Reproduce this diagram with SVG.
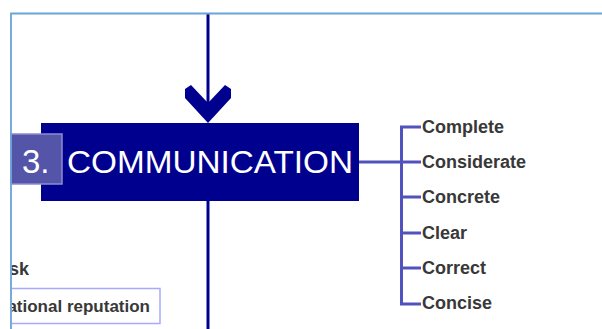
<svg xmlns="http://www.w3.org/2000/svg" width="602" height="329" viewBox="0 0 602 329">
<style>
.frame{stroke:#6BA3DA;stroke-width:1.8;fill:none}
.stem{stroke:#00008F;stroke-width:3;fill:none}
.br{stroke:#5252BE;stroke-width:3;fill:none}
.lbl{font-family:"Liberation Sans",Arial,sans-serif;font-size:18px;font-weight:bold;fill:#383838}
.white{font-family:"Liberation Sans",Arial,sans-serif;fill:#fff}
</style>
<defs>
<clipPath id="frameclip"><rect x="11.8" y="0" width="600" height="329"/></clipPath>
</defs>
<rect width="602" height="329" fill="#fff"/>
<g id="connectors">
<line class="stem" x1="208" y1="14" x2="208" y2="106"/>
<polygon fill="#00008F" points="185,89 191,85 208,103 225,85 231,89 231,98 208,123 185,98"/>
<line class="stem" x1="208" y1="200" x2="208" y2="329"/>
<line class="br" x1="359" y1="162" x2="402" y2="162" stroke-width="2.5"/>
<path class="br" d="M421,127 H401.5 V304 H421 M401.5,162 H421 M401.5,197 H421 M401.5,233 H421 M401.5,268 H421"/>
</g>
<g id="communication">
<rect x="41" y="123" width="318" height="78" fill="#00008F"/>
<text class="white" x="67" y="173" font-size="31" textLength="286" lengthAdjust="spacingAndGlyphs">COMMUNICATION</text>
</g>
<g id="number">
<rect x="11" y="134" width="51" height="50" fill="#5454A8" stroke="#8C8CD0" stroke-width="1.5"/>
<text class="white" x="22" y="173" font-size="33">3.</text>
</g>
<g id="items">
<text class="lbl" x="422" y="133">Complete</text>
<text class="lbl" x="422" y="168">Considerate</text>
<text class="lbl" x="422" y="203">Concrete</text>
<text class="lbl" x="422" y="239">Clear</text>
<text class="lbl" x="422" y="274">Correct</text>
<text class="lbl" x="422" y="309">Concise</text>
</g>
<g id="left-items" clip-path="url(#frameclip)">
<text class="lbl" x="29" y="275" text-anchor="end" font-size="17">sk</text>
<rect x="-5" y="288.5" width="165" height="35" fill="#fff" stroke="#A8A8FF" stroke-width="1.5"/>
<text class="lbl" x="150" y="312" text-anchor="end" style="font-size:17px">ational reputation</text>
</g>
<g id="frame">
<path class="frame" d="M602,13.5 H11 V329"/>
</g>
</svg>
